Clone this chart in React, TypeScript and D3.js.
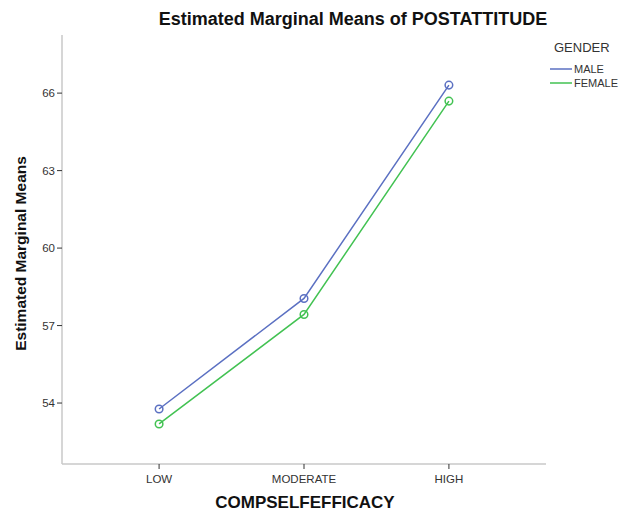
import * as d3 from 'd3';

const categories = ['LOW', 'MODERATE', 'HIGH'];
const maleValues = [53.77, 58.05, 66.31];
const femaleValues = [53.19, 57.43, 65.69];
const yTicks = [54, 57, 60, 63, 66];
const seriesNames = ['MALE', 'FEMALE'];
const seriesColors = ['#5b70c2', '#42c252'];

export default function App() {
  const width = 622;
  const height = 511;
  const left = 62;
  const right = 546;
  const top = 35;
  const bottom = 464;

  const x = d3.scalePoint<string>().domain(categories).range([left, right]).padding(0.67);
  const y = d3.scaleLinear().domain([51.64, 68.25]).range([bottom, top]);
  const line = d3
    .line<number>()
    .x((_, i) => x(categories[i]) as number)
    .y((d) => y(d));

  const series = [maleValues, femaleValues];
  const font = 'Liberation Sans, Arial, sans-serif';

  return (
    <svg
      width={width}
      height={height}
      style={{ position: 'absolute', left: 0, top: 0, background: '#fff' }}
      fontFamily={font}
    >
      <text x={353} y={25} textAnchor="middle" fontSize={18} fontWeight="bold" fill="#111">
        Estimated Marginal Means of POSTATTITUDE
      </text>

      {/* axes */}
      <line x1={left} y1={top} x2={left} y2={bottom} stroke="#c8c8c8" strokeWidth={1.5} />
      <line x1={left} y1={bottom} x2={right} y2={bottom} stroke="#c8c8c8" strokeWidth={1.5} />

      {yTicks.map((t) => (
        <g key={t}>
          <line x1={left - 5} x2={left} y1={y(t)} y2={y(t)} stroke="#333" />
          <text x={left - 7} y={y(t)} dy="0.35em" textAnchor="end" fontSize={11.5} fill="#333">
            {t}
          </text>
        </g>
      ))}

      {categories.map((c) => (
        <g key={c}>
          <line x1={x(c)} x2={x(c)} y1={bottom} y2={bottom + 5} stroke="#333" />
          <text x={x(c)} y={bottom + 19} textAnchor="middle" fontSize={11.5} fill="#333">
            {c}
          </text>
        </g>
      ))}

      <text x={305} y={508} textAnchor="middle" fontSize={17} fontWeight="bold" fill="#111">
        COMPSELFEFFICACY
      </text>
      <text
        transform={`translate(26,${(top + bottom) / 2 + 4}) rotate(-90)`}
        textAnchor="middle"
        fontSize={15.5}
        fontWeight="bold"
        fill="#111"
      >
        Estimated Marginal Means
      </text>

      {/* series */}
      {series.map((vals, si) => (
        <g key={seriesNames[si]}>
          <path d={line(vals) ?? ''} fill="none" stroke={seriesColors[si]} strokeWidth={1.5} />
          {vals.map((v, i) => (
            <circle
              key={i}
              cx={x(categories[i])}
              cy={y(v)}
              r={3.8}
              fill="none"
              stroke={seriesColors[si]}
              strokeWidth={1.5}
            />
          ))}
        </g>
      ))}

      {/* legend */}
      <text x={554} y={52} fontSize={13} fill="#333">
        GENDER
      </text>
      {seriesNames.map((n, i) => (
        <g key={n}>
          <line
            x1={550}
            x2={572}
            y1={69 + i * 14}
            y2={69 + i * 14}
            stroke={seriesColors[i]}
            strokeWidth={1.5}
          />
          <text x={574} y={69 + i * 14} dy="0.35em" fontSize={11} fill="#333">
            {n}
          </text>
        </g>
      ))}
    </svg>
  );
}
